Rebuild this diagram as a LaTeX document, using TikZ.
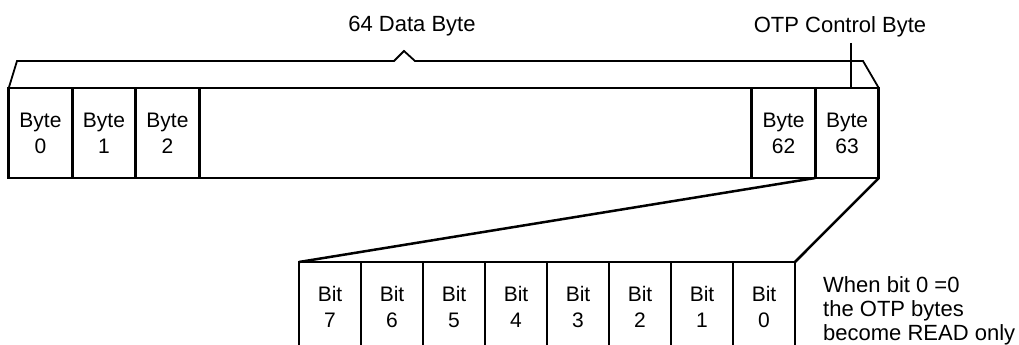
\documentclass[tikz,border=0pt]{standalone}
\usepackage{fontspec}
\setmainfont{Liberation Sans}

\begin{document}
\begin{tikzpicture}[x=1pt,y=-1pt,
    cell/.style={draw, line width=2.8pt, outer sep=0pt, inner sep=0pt, minimum height=90pt, align=center, font=\fontsize{21}{26}\selectfont},
    bytecell/.style={cell, minimum width=63.5pt},
    bitcell/.style={cell, minimum width=62pt},
    label/.style={inner sep=0pt, font=\fontsize{22}{24}\selectfont}]
            \clip (0,0) rectangle (1019,345);

            % Bytes
            \node[bytecell] (b0) at (40.5,133) {Byte\\0};
            \node[bytecell] (b1) at (104,133) {Byte\\1};
            \node[bytecell] (b2) at (167.5,133) {Byte\\2};
            \node[cell, minimum width=553pt] (rest) at (475.5,133) {};
            \node[bytecell] (b62) at (783.5,133) {Byte\\62};
            \node[bytecell] (b63) at (847,133) {Byte\\63};

            % Bits of the control byte
            \node[bitcell] (bit7) at (330,307) {Bit\\7};
            \node[bitcell] (bit6) at (392,307) {Bit\\6};
            \node[bitcell] (bit5) at (454,307) {Bit\\5};
            \node[bitcell] (bit4) at (516,307) {Bit\\4};
            \node[bitcell] (bit3) at (578,307) {Bit\\3};
            \node[bitcell] (bit2) at (640,307) {Bit\\2};
            \node[bitcell] (bit1) at (702,307) {Bit\\1};
            \node[bitcell] (bit0) at (764,307) {Bit\\0};

            % Labels
            \node[label] (data) at (412,26.5) {64 Data Byte};
            \node[label] (otplabel) at (840,26.5) {OTP Control Byte};
            \node[label, align=left, anchor=north west] (note) at (823,276) {When bit 0 =0\\the OTP bytes\\become READ only};

            % Brace over the bytes
            \coordinate (bl) at (17,61);
            \coordinate (pl) at (394,61);
            \coordinate (peak) at (404,51);
            \coordinate (pr) at (415,61);
            \coordinate (br) at (863,61);
            \draw[line width=1.8pt] (b0.north west) -- (bl) -- (pl) -- (peak) -- (pr) -- (br) -- (b63.north east);
            \coordinate (otp) at (851,43);
            \draw[line width=1.4pt] (otp) -- (otp |- b63.north);

            % Zoom onto the bits
            \draw[line width=2.5pt] (b62.south east) -- (bit7.north west);
            \draw[line width=2.5pt] (b63.south east) -- (bit0.north east);

        \end{tikzpicture}
\end{document}
